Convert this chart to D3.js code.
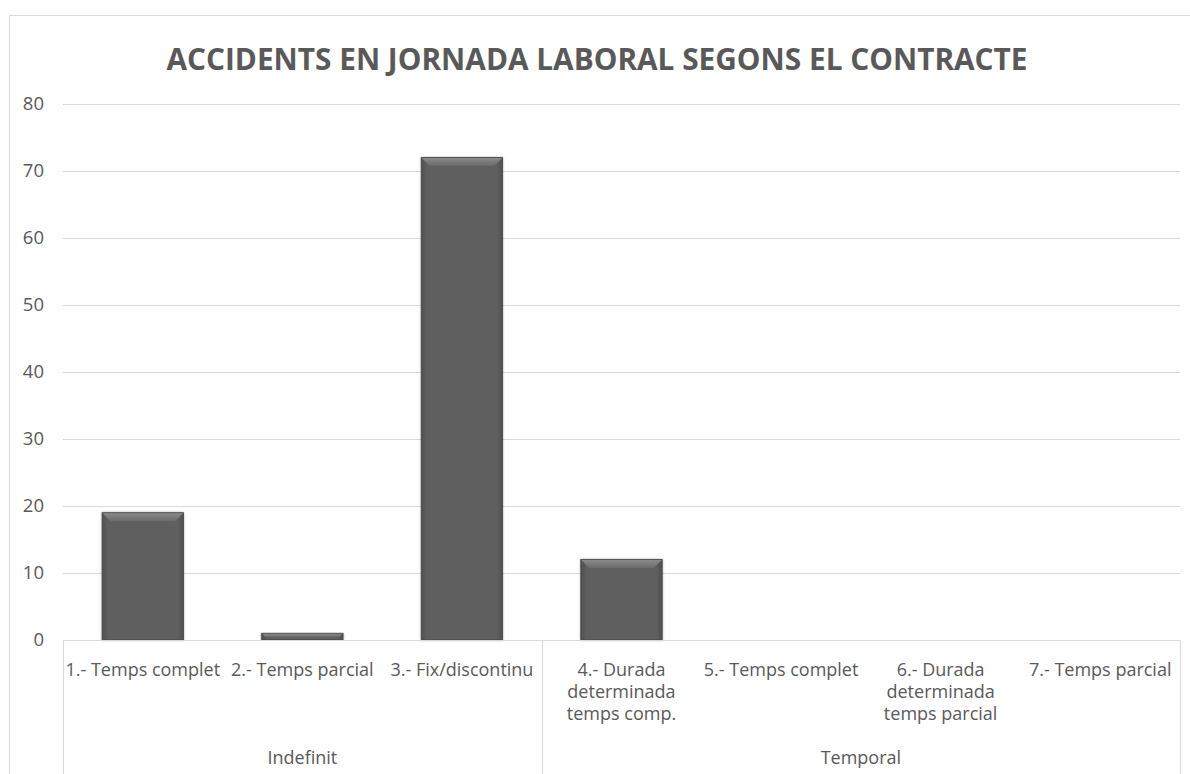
<!DOCTYPE html>
<html>
<head>
<meta charset="utf-8">
<script src="https://cdn.jsdelivr.net/npm/d3@7"></script>
<style>
  body { margin: 0; background: #fff; }
  svg { display: block; }
  text { font-family: "Open Sans", Lato, sans-serif; fill: #595959; }
</style>
</head>
<body>
<div id="chart"></div>
<script>
// Chart data
const categories = [
    "1.- Temps complet",
    "2.- Temps parcial",
    "3.- Fix/discontinu",
    "4.- Durada\ndeterminada\ntemps comp.",
    "5.- Temps complet",
    "6.- Durada\ndeterminada\ntemps parcial",
    "7.- Temps parcial"
];
const groups = ["Indefinit", "Indefinit", "Indefinit", "Temporal", "Temporal", "Temporal", "Temporal"];
const values = [19, 1, 72, 12, 0, 0, 0];
const yTicks = [0, 10, 20, 30, 40, 50, 60, 70, 80];
const title = "ACCIDENTS EN JORNADA LABORAL SEGONS EL CONTRACTE";

const width = 1190;
const height = 774;
const margin = { top: 104, right: 10, bottom: 134, left: 63 };

const svg = d3.select("#chart")
    .append("svg")
    .attr("width", width)
    .attr("height", height);

// Chart frame (right and bottom edges fall outside the picture)
svg.append("rect")
    .attr("x", 9.5)
    .attr("y", 15.5)
    .attr("width", width + 20)
    .attr("height", height + 20)
    .attr("fill", "#fff")
    .attr("stroke", "#d9d9d9")
    .attr("stroke-width", 1);

// Title
svg.append("text")
    .attr("x", 597)
    .attr("y", 70)
    .attr("text-anchor", "middle")
    .attr("font-size", 29.8)
    .attr("font-weight", "bold")
    .text(title);

const x = d3.scaleBand()
    .domain(d3.range(categories.length))
    .range([margin.left, width - margin.right])
    .paddingInner(0.49)
    .paddingOuter(0.245);

const xCat = d3.scaleBand()
    .domain(d3.range(categories.length))
    .range([margin.left, width - margin.right]);

const y = d3.scaleLinear()
    .domain([0, 80])
    .range([height - margin.bottom, margin.top]);

// Gridlines
svg.append("g")
    .selectAll("line")
    .data(yTicks)
    .join("line")
    .attr("x1", margin.left)
    .attr("x2", width - margin.right)
    .attr("y1", d => Math.round(y(d)) + 0.5)
    .attr("y2", d => Math.round(y(d)) + 0.5)
    .attr("stroke", "#d9d9d9")
    .attr("stroke-width", 1);

// Y axis labels
svg.append("g")
    .selectAll("text")
    .data(yTicks)
    .join("text")
    .attr("x", 44)
    .attr("y", d => y(d))
    .attr("dy", "0.35em")
    .attr("text-anchor", "end")
    .attr("font-size", 18.5)
    .text(d => d);

// Bar gradient
const defs = svg.append("defs");
const grad = defs.append("linearGradient")
    .attr("id", "barFill")
    .attr("x1", 0).attr("x2", 1).attr("y1", 0).attr("y2", 0);
grad.append("stop").attr("offset", "0%").attr("stop-color", "#505050");
grad.append("stop").attr("offset", "7%").attr("stop-color", "#5e5e5e");
grad.append("stop").attr("offset", "93%").attr("stop-color", "#5e5e5e");
grad.append("stop").attr("offset", "100%").attr("stop-color", "#505050");

const shadow = defs.append("filter").attr("id", "barShadow")
    .attr("x", "-10%").attr("y", "-10%").attr("width", "120%").attr("height", "120%");
shadow.append("feDropShadow")
    .attr("dx", 0).attr("dy", 0).attr("stdDeviation", 1.2)
    .attr("flood-color", "#000").attr("flood-opacity", 0.35);

const bevelGrad = defs.append("linearGradient")
    .attr("id", "bevelFill")
    .attr("x1", 0).attr("x2", 0).attr("y1", 0).attr("y2", 1);
bevelGrad.append("stop").attr("offset", "0%").attr("stop-color", "#8a8a8a");
bevelGrad.append("stop").attr("offset", "100%").attr("stop-color", "#6a6a6a");

// Bars with bevel
const bars = svg.append("g")
    .selectAll("g")
    .data(values.map((v, i) => ({ v, i })).filter(d => d.v > 0))
    .join("g");

bars.append("rect")
    .attr("x", d => x(d.i))
    .attr("y", d => y(d.v))
    .attr("width", x.bandwidth())
    .attr("height", d => y(0) - y(d.v))
    .attr("fill", "url(#barFill)")
    .attr("stroke", "#444")
    .attr("stroke-width", 0.8)
    .attr("filter", "url(#barShadow)");

// Top bevel highlight
bars.append("path")
    .attr("d", d => {
        const x0 = x(d.i) + 0.5, x1 = x(d.i) + x.bandwidth() - 0.5;
        const y0 = y(d.v) + 0.5;
        const b = Math.min(8, (y(0) - y0) / 2);
        return `M${x0},${y0}L${x1},${y0}L${x1 - b},${y0 + b}L${x0 + b},${y0 + b}Z`;
    })
    .attr("fill", "url(#bevelFill)");

// Category axis
const axisY = Math.round(y(0)) + 0.5;
svg.append("line")
    .attr("x1", margin.left)
    .attr("x2", width - margin.right)
    .attr("y1", axisY)
    .attr("y2", axisY)
    .attr("stroke", "#d9d9d9");

// Group separators
const groupNames = Array.from(new Set(groups));
const groupBounds = groupNames.map(g => {
    const idx = d3.range(groups.length).filter(i => groups[i] === g);
    const start = xCat(idx[0]);
    const end = xCat(idx[idx.length - 1]) + xCat.bandwidth();
    return { g, start, end };
});
const sepX = Array.from(new Set(groupBounds.flatMap(d => [d.start, d.end])));
svg.append("g")
    .selectAll("line")
    .data(sepX)
    .join("line")
    .attr("x1", d => Math.round(d) + 0.5)
    .attr("x2", d => Math.round(d) + 0.5)
    .attr("y1", axisY)
    .attr("y2", height)
    .attr("stroke", "#d9d9d9");

// Category labels
const catLabels = svg.append("g")
    .selectAll("text")
    .data(categories)
    .join("text")
    .attr("text-anchor", "middle")
    .attr("font-size", 18)
    .attr("y", 676);

catLabels.selectAll("tspan")
    .data((d, i) => d.split("\n").map(line => ({ line, i })))
    .join("tspan")
    .attr("x", d => xCat(d.i) + xCat.bandwidth() / 2)
    .attr("dy", (d, j) => j === 0 ? 0 : 22)
    .text(d => d.line);

// Group labels
svg.append("g")
    .selectAll("text")
    .data(groupBounds)
    .join("text")
    .attr("x", d => (d.start + d.end) / 2)
    .attr("y", 764)
    .attr("text-anchor", "middle")
    .attr("font-size", 18)
    .text(d => d.g);
</script>
</body>
</html>
